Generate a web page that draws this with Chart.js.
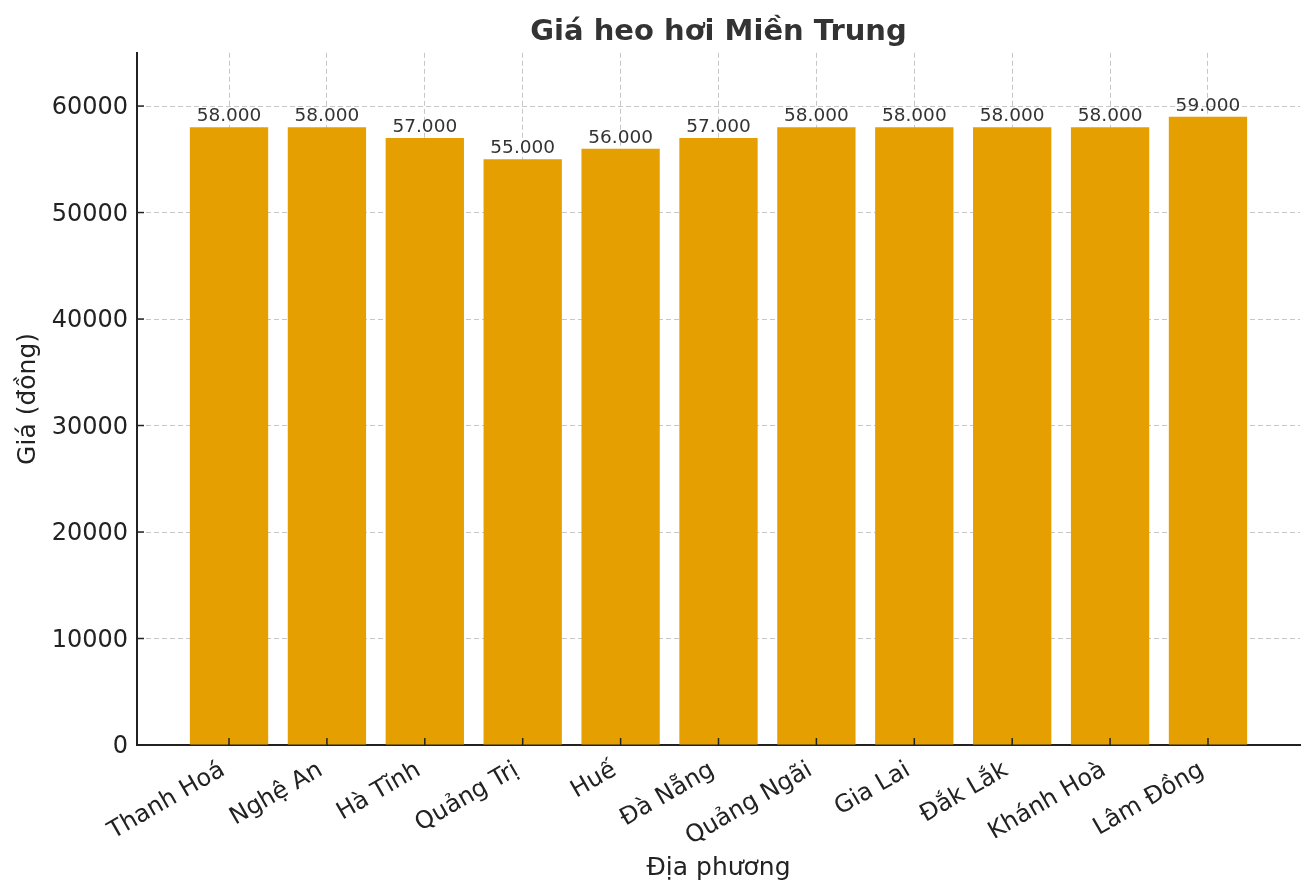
<!DOCTYPE html>
<html>
<head>
<meta charset="utf-8">
<script src="https://cdn.jsdelivr.net/npm/chart.js@4/dist/chart.umd.min.js"></script>
<style>
    body { margin: 0; background: #fff; }
    #wrap { width: 1314px; height: 896px; position: relative; }
</style>
</head>
<body>
<div id="wrap"><canvas id="priceChart"></canvas></div>
<script>
// dữ liệu
const regions = ['Thanh Hoá', 'Nghệ An', 'Hà Tĩnh', 'Quảng Trị', 'Huế', 'Đà Nẵng', 'Quảng Ngãi', 'Gia Lai', 'Đắk Lắk', 'Khánh Hoà', 'Lâm Đồng'];
const prices = [58000, 58000, 57000, 55000, 56000, 57000, 58000, 58000, 58000, 58000, 59000];
const yTicks = [0, 10000, 20000, 30000, 40000, 50000, 60000];

const FONT = "'DejaVu Sans', Verdana, sans-serif";
Chart.defaults.font.family = FONT;

function formatVN(v) {
    return String(v).replace(/\B(?=(\d{3})+(?!\d))/g, '.');
}

// nhãn giá trị trên đầu cột + vạch chia hướng vào trong
const decorPlugin = {
    id: 'decor',
    afterDraw(chart) {
        const ctx = chart.ctx;
        const area = chart.chartArea;
        const xs = chart.scales.x, ys = chart.scales.y;
        ctx.save();
        ctx.strokeStyle = '#222';
        ctx.lineWidth = 1.5;
        xs.ticks.forEach(t => {
            const px = xs.getPixelForValue(t.value);
            ctx.beginPath(); ctx.moveTo(px, area.bottom); ctx.lineTo(px, area.bottom - 7); ctx.stroke();
        });
        ys.ticks.forEach(t => {
            const py = ys.getPixelForValue(t.value);
            ctx.beginPath(); ctx.moveTo(area.left, py); ctx.lineTo(area.left + 7, py); ctx.stroke();
        });
        ctx.fillStyle = '#333';
        ctx.font = '18.5px ' + FONT;
        ctx.textAlign = 'center';
        ctx.textBaseline = 'alphabetic';
        chart.getDatasetMeta(0).data.forEach((bar, i) => {
            ctx.fillText(formatVN(prices[i]), bar.x, bar.y - 6);
        });
        ctx.restore();
    }
};

new Chart(document.getElementById('priceChart'), {
    type: 'bar',
    data: {
        datasets: [{
            data: prices.map((v, i) => ({ x: i, y: v })),
            backgroundColor: '#E69F00',
            borderWidth: 0,
            barPercentage: 0.8,
            categoryPercentage: 1.0
        }]
    },
    options: {
        responsive: true,
        maintainAspectRatio: false,
        animation: false,
        layout: { padding: { left: 0, right: 14, top: 0, bottom: 0 } },
        plugins: {
            legend: { display: false },
            tooltip: { enabled: false },
            title: {
                display: true,
                fullSize: false,
                text: 'Giá heo hơi Miền Trung',
                color: '#333',
                font: { size: 29, weight: 'bold' },
                padding: { top: 15, bottom: 3 }
            }
        },
        scales: {
            x: {
                type: 'linear',
                min: -0.94,
                max: 10.94,
                offset: false,
                z: 1,
                afterBuildTicks: s => { s.ticks = regions.map((_, i) => ({ value: i })); },
                afterFit: s => { s.height = 151; },
                ticks: {
                    autoSkip: false,
                    minRotation: 30,
                    maxRotation: 30,
                    padding: 11,
                    labelOffset: -6,
                    color: '#222',
                    font: { size: 24 },
                    callback: v => regions[v] ?? ''
                },
                grid: {
                    offset: false,
                    drawTicks: false,
                    color: 'rgba(185,185,185,0.8)',
                    lineWidth: 1
                },
                border: { display: true, color: '#222', width: 2, dash: [5, 3] },
                title: {
                    display: true,
                    text: 'Địa phương',
                    color: '#222',
                    font: { size: 25 },
                    padding: { top: 0, bottom: 13 }
                }
            },
            y: {
                min: 0,
                max: 65000,
                z: 1,
                afterBuildTicks: s => { s.ticks = yTicks.map(v => ({ value: v })); },
                afterFit: s => { s.width = 137; },
                ticks: {
                    padding: 9,
                    labelOffset: 2,
                    color: '#222',
                    font: { size: 24 },
                    callback: v => String(v)
                },
                grid: {
                    drawTicks: false,
                    color: 'rgba(185,185,185,0.8)',
                    lineWidth: 1
                },
                border: { display: true, color: '#222', width: 2, dash: [5, 3] },
                title: {
                    display: true,
                    text: 'Giá (đồng)',
                    color: '#222',
                    font: { size: 25 },
                    padding: { top: 13, bottom: 0 }
                }
            }
        }
    },
    plugins: [decorPlugin]
});
</script>
</body>
</html>
